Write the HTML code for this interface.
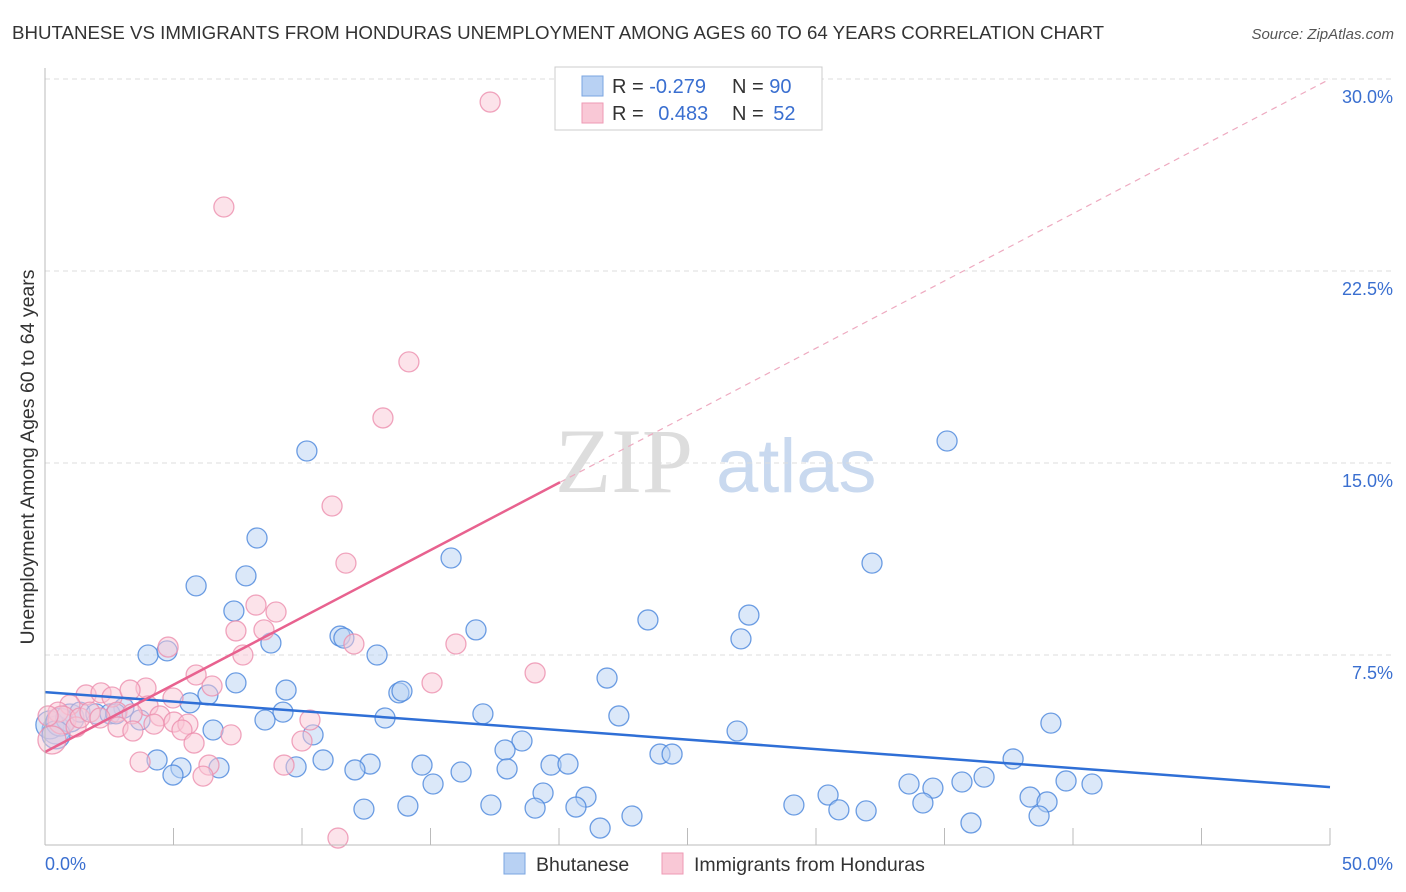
<!DOCTYPE html>
<html><head><meta charset="utf-8"><style>
body{margin:0;background:#fff;font-family:"Liberation Sans",sans-serif;}
</style></head><body>
<svg id="c" width="1406" height="892" xmlns="http://www.w3.org/2000/svg" style="display:block">
<text x="12" y="39" font-size="18.7" fill="#333">BHUTANESE VS IMMIGRANTS FROM HONDURAS UNEMPLOYMENT AMONG AGES 60 TO 64 YEARS CORRELATION CHART</text>
<text x="1394" y="39" font-size="15" fill="#555" font-style="italic" text-anchor="end">Source: ZipAtlas.com</text>
<text transform="translate(34,457) rotate(-90)" font-size="19.5" fill="#333" text-anchor="middle">Unemployment Among Ages 60 to 64 years</text>
<g><text x="555" y="492" font-size="92" font-family="Liberation Serif" fill="#ddd">ZIP</text><text x="716" y="492" font-size="76" fill="#c9d9ef">atlas</text></g>
<g id="grid"></g><g id="pts"></g><g id="trends"></g><g id="axes"></g>
<g>
<rect x="555" y="67" width="267" height="63" fill="#fff" stroke="#ccc"/>
<rect x="582" y="76" width="21" height="20" fill="#b8d1f3" stroke="#7aa5e0"/>
<rect x="582" y="103" width="21" height="20" fill="#f9c8d6" stroke="#ee9ab4"/>
<text x="612" y="93" font-size="20" fill="#333">R = <tspan fill="#3a6fd0">-0.279</tspan></text>
<text x="732" y="93" font-size="20" fill="#333">N = <tspan fill="#3a6fd0">90</tspan></text>
<text x="612" y="120" font-size="20" fill="#333">R = <tspan fill="#3a6fd0" dx="9">0.483</tspan></text>
<text x="732" y="120" font-size="20" fill="#333">N = <tspan fill="#3a6fd0" dx="4">52</tspan></text>
</g>
<g>
<rect x="504" y="853" width="21" height="21" fill="#b8d1f3" stroke="#7aa5e0"/>
<text x="536" y="871" font-size="19.5" fill="#333">Bhutanese</text>
<rect x="662" y="853" width="21" height="21" fill="#f9c8d6" stroke="#ee9ab4"/>
<text x="694" y="871" font-size="19.5" fill="#333">Immigrants from Honduras</text>
</g>
</svg>
<script>
const blueX=[10.19,35.10,8.25,15.80,32.18,7.82,5.88,7.35,27.39,23.46,16.77,11.48,11.63,27.08,8.79,12.92,4.01,4.75,7.43,9.38,13.77,13.89,6.34,21.87,5.64,3.07,9.26,17.04,22.33,13.23,8.56,3.70,39.14,26.93,6.54,10.43,18.56,17.90,4.36,10.82,12.65,14.67,19.69,20.35,23.93,24.40,37.67,9.77,12.06,6.77,5.29,4.98,16.19,17.98,36.54,35.68,34.55,33.62,40.74,39.73,15.10,19.38,21.05,38.33,38.99,30.47,34.16,29.14,17.35,14.12,12.41,19.07,20.66,30.89,31.95,38.68,22.84,36.03,21.60,0.43,0.19,0.58,0.97,1.36,1.98,2.53,2.76,0.43];
const blueY=[15.47,15.86,12.07,11.29,11.09,10.59,10.20,9.22,9.06,8.87,8.48,8.24,8.16,8.13,7.97,7.50,7.50,7.66,6.41,6.13,6.02,6.09,5.94,6.60,5.63,5.43,5.27,5.20,5.12,5.04,4.96,4.96,4.84,4.53,4.57,4.38,4.14,3.79,3.40,3.40,3.24,3.20,3.20,3.24,3.63,3.63,3.44,3.13,3.01,3.09,3.09,2.81,2.93,3.05,2.73,2.54,2.30,2.46,2.46,2.58,2.46,2.11,1.95,1.95,1.76,2.03,1.72,1.64,1.64,1.60,1.48,1.52,1.56,1.45,1.41,1.21,1.21,0.94,0.74,4.57,4.77,4.88,5.04,5.27,5.20,5.20,5.20,4.38];
const pinkX=[17.32,6.96,14.16,13.15,11.17,11.71,8.21,8.99,7.43,8.52,12.02,15.99,7.70,4.79,5.88,19.07,3.93,4.98,15.06,6.50,1.60,2.18,2.61,3.31,4.01,4.47,5.02,5.56,2.80,3.39,10.31,4.24,5.33,2.84,3.42,7.24,10.00,5.80,3.70,6.38,9.30,6.15,11.40,0.97,0.51,0.66,0.12,1.21,1.36,1.75,2.14,0.27];
const pinkY=[29.10,25.00,18.95,16.76,13.32,11.09,9.45,9.18,8.44,8.48,7.93,7.93,7.50,7.81,6.72,6.80,6.21,5.82,6.41,6.29,5.94,6.02,5.86,6.13,5.51,5.12,4.88,4.80,5.27,5.20,4.96,4.80,4.57,4.69,4.53,4.38,4.14,4.06,3.32,3.20,3.20,2.77,0.35,5.55,5.27,4.96,5.12,4.69,5.04,5.27,5.04,4.18];
const blueTrend=[6.05,2.34];   // y at x=0, x=50
const pinkTrend=[3.71,30.0];
const pinkSolidEnd=20.04;
const yTicks=[7.5,15,22.5,30];
const yTickLabels=["7.5%","15.0%","22.5%","30.0%"];
const xTicks=[0,5,10,15,20,25,30,35,40,45,50];
const NS="http://www.w3.org/2000/svg";
const sx=v=>45+v*25.7, sy=v=>847-v*25.6;
function mk(tag,attrs,parent){const e=document.createElementNS(NS,tag);for(const k in attrs)e.setAttribute(k,attrs[k]);parent.appendChild(e);return e;}
const grid=document.getElementById('grid'),pts=document.getElementById('pts'),tr=document.getElementById('trends'),ax=document.getElementById('axes');
yTicks.forEach((t,i)=>{
  const l=mk('line',{x1:45,x2:1394,y1:sy(t),y2:sy(t),stroke:'#ddd','stroke-dasharray':'5,4'},grid);
  
  
  const tx=mk('text',{x:1393,y:sy(t)+24,'font-size':18,fill:'#3a6fd0','text-anchor':'end'},ax);
  tx.textContent=yTickLabels[i];
  
  
});
const xa=mk('line',{x1:45,x2:1330,y1:845,y2:845,stroke:'#bbb'},ax);


const ya=mk('line',{x1:45,x2:45,y1:68,y2:845,stroke:'#bbb'},ax);


xTicks.forEach(t=>{
  const l=mk('line',{x1:sx(t),x2:sx(t),y1:828,y2:845,stroke:'#bbb'},ax);
  
  
});
[[0,"0.0%",'start',45],[50,"50.0%",'end',1393]].forEach(a=>{
  const t=mk('text',{x:a[3],y:870,'font-size':18,fill:'#3a6fd0','text-anchor':a[2]},ax);
  t.textContent=a[1];
  
  
});
function dots(X,Y,fill,stroke,name){
  X.forEach((x,i)=>{
    const r=(x<1&&Math.abs(Y[i]-4.6)<0.5)?14:10;
    const c=mk('circle',{cx:sx(x),cy:sy(Y[i]),r:r,fill:fill,'fill-opacity':0.5,stroke:stroke,'stroke-width':1.3,'stroke-opacity':0.8},pts);
    
    
  });
}
dots(blueX,blueY,'#b8d1f3','#4a86dc','bhutanese-point');
dots(pinkX,pinkY,'#f9c8d6','#ec8fae','honduras-point');
const py=x=>pinkTrend[0]+(pinkTrend[1]-pinkTrend[0])*x/50;
const bl=mk('line',{x1:sx(0),y1:sy(blueTrend[0]),x2:sx(50),y2:sy(blueTrend[1]),stroke:'#2f6fd6','stroke-width':2.5},tr);


const pl=mk('line',{x1:sx(0),y1:sy(py(0)),x2:sx(pinkSolidEnd),y2:sy(py(pinkSolidEnd)),stroke:'#e8628f','stroke-width':2.5},tr);


const pd=mk('line',{x1:sx(pinkSolidEnd),y1:sy(py(pinkSolidEnd)),x2:sx(50),y2:sy(py(50)),stroke:'#eeaac0','stroke-width':1.2,'stroke-dasharray':'6,5'},tr);


</script>
</body></html>
